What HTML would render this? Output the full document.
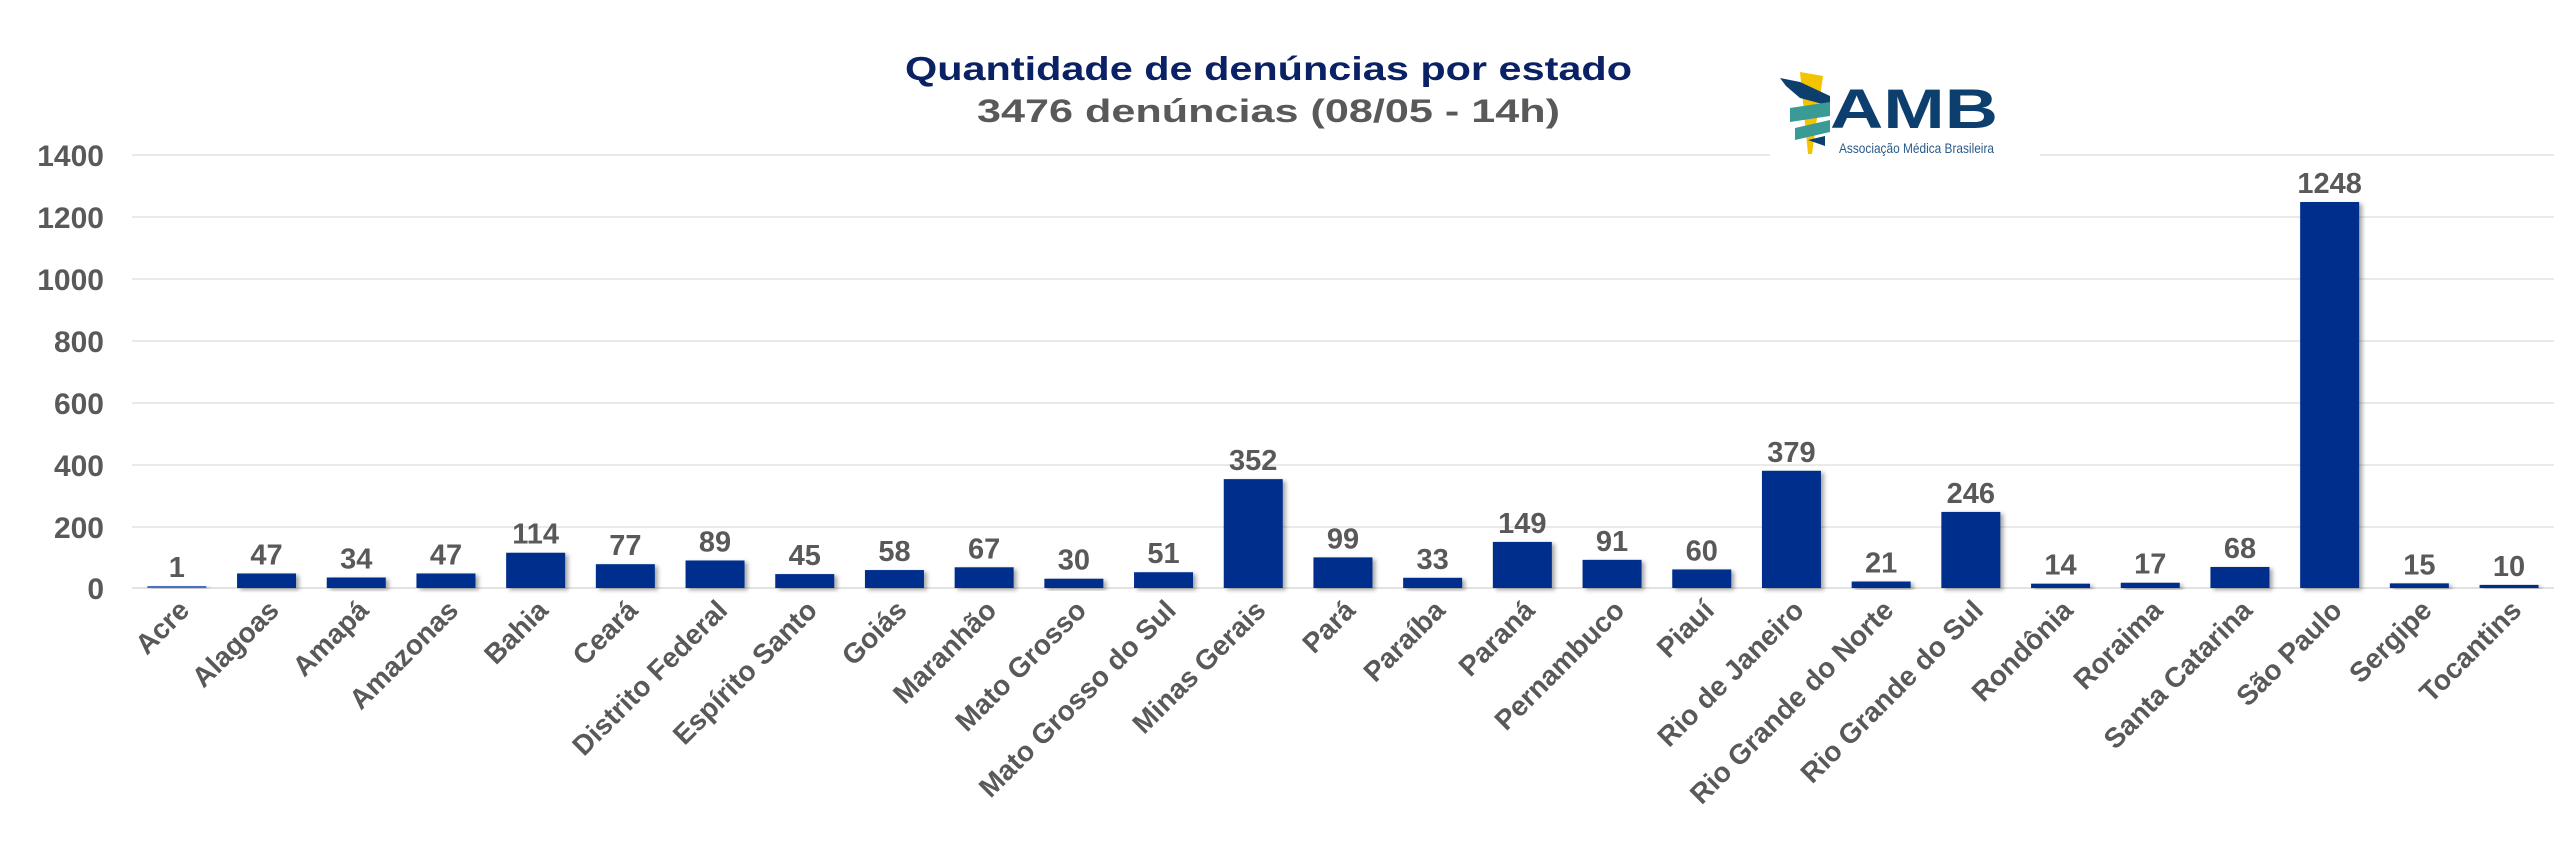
<!DOCTYPE html>
<html><head><meta charset="utf-8"><style>
html,body{margin:0;padding:0;background:#fff;}
svg{display:block;}
</style></head><body>
<svg width="2560" height="868" viewBox="0 0 2560 868" xmlns="http://www.w3.org/2000/svg" font-family="'Liberation Sans', sans-serif">
<defs>
<filter id="sh" x="-20%" y="-20%" width="150%" height="150%">
<feDropShadow dx="3" dy="2" stdDeviation="2" flood-color="#000" flood-opacity="0.35"/>
</filter>
</defs>
<rect width="2560" height="868" fill="#fff"/>
<g stroke="#e3e3e3" stroke-width="1.5">
<line x1="132" y1="155" x2="2554" y2="155"/>
<line x1="132" y1="217" x2="2554" y2="217"/>
<line x1="132" y1="279" x2="2554" y2="279"/>
<line x1="132" y1="341" x2="2554" y2="341"/>
<line x1="132" y1="403" x2="2554" y2="403"/>
<line x1="132" y1="465" x2="2554" y2="465"/>
<line x1="132" y1="527" x2="2554" y2="527"/>
<line x1="132" y1="588" x2="2554" y2="588" stroke="#d9d9d9"/>
</g>
<g fill="#595959" font-weight="bold" font-size="30" text-anchor="end">
<text x="104" y="166">1400</text>
<text x="104" y="228">1200</text>
<text x="104" y="290">1000</text>
<text x="104" y="352">800</text>
<text x="104" y="414">600</text>
<text x="104" y="476">400</text>
<text x="104" y="538">200</text>
<text x="104" y="599">0</text>
</g>
<!-- logo -->
<rect x="1770" y="66" width="270" height="100" fill="#fff"/>
<polygon points="1800,72 1823,76 1812,154 1808,154" fill="#f2c500"/>
<path d="M1780,78 L1800,82 L1830,96 L1830,106 L1800,98 L1786,86 Z" fill="#0d3f6e"/>
<path d="M1790,108 L1830,102 L1830,116 L1790,122 Z" fill="#3a9a96"/>
<path d="M1795,128 L1830,120 L1830,132 L1795,140 Z" fill="#3a9a96"/>
<path d="M1808,140 L1825,136 L1825,146 Z" fill="#0d3f6e"/>
<text x="1830" y="128" font-size="56" font-weight="bold" fill="#0d3f6e" textLength="168" lengthAdjust="spacingAndGlyphs">AMB</text>
<text x="1839" y="153" font-size="14" fill="#2a5b8a" textLength="155" lengthAdjust="spacingAndGlyphs">Associação Médica Brasileira</text>
<!-- titles -->
<text x="905" y="80" font-size="33" font-weight="bold" fill="#0a2165" textLength="727" lengthAdjust="spacingAndGlyphs">Quantidade de denúncias por estado</text>
<text x="977" y="122" font-size="32" font-weight="bold" fill="#595959" textLength="583" lengthAdjust="spacingAndGlyphs">3476 denúncias (08/05 - 14h)</text>
<g id="bars"></g>
</svg>
<script>
(function(){
var names=["Acre","Alagoas","Amapá","Amazonas","Bahia","Ceará","Distrito Federal","Espírito Santo","Goiás","Maranhão","Mato Grosso","Mato Grosso do Sul","Minas Gerais","Pará","Paraíba","Paraná","Pernambuco","Piauí","Rio de Janeiro","Rio Grande do Norte","Rio Grande do Sul","Rondônia","Roraima","Santa Catarina","São Paulo","Sergipe","Tocantins"];
var vals=[1,47,34,47,114,77,89,45,58,67,30,51,352,99,33,149,91,60,379,21,246,14,17,68,1248,15,10];
var g=document.getElementById("bars"),s="";
var step=89.7,x0=132,k=433/1400;
for(var i=0;i<27;i++){
 var c=x0+step*(i+0.5),h=Math.max(vals[i]*k,2),ty=588-h;
 s+='<rect x="'+(c-29.5)+'" y="'+ty+'" width="59" height="'+h+'" fill="'+(i==0?'#4a72c4':'#002f8c')+'" filter="url(#sh)"/>';
 s+='<text x="'+c+'" y="'+(ty-9)+'" font-size="29" font-weight="bold" fill="#595959" text-anchor="middle">'+vals[i]+'</text>';
 s+='<text transform="translate('+(c+14)+',612) rotate(-45)" font-size="28" font-weight="bold" fill="#595959" text-anchor="end">'+names[i]+'</text>';
}
g.innerHTML=s;
})();
</script>
</body></html>
